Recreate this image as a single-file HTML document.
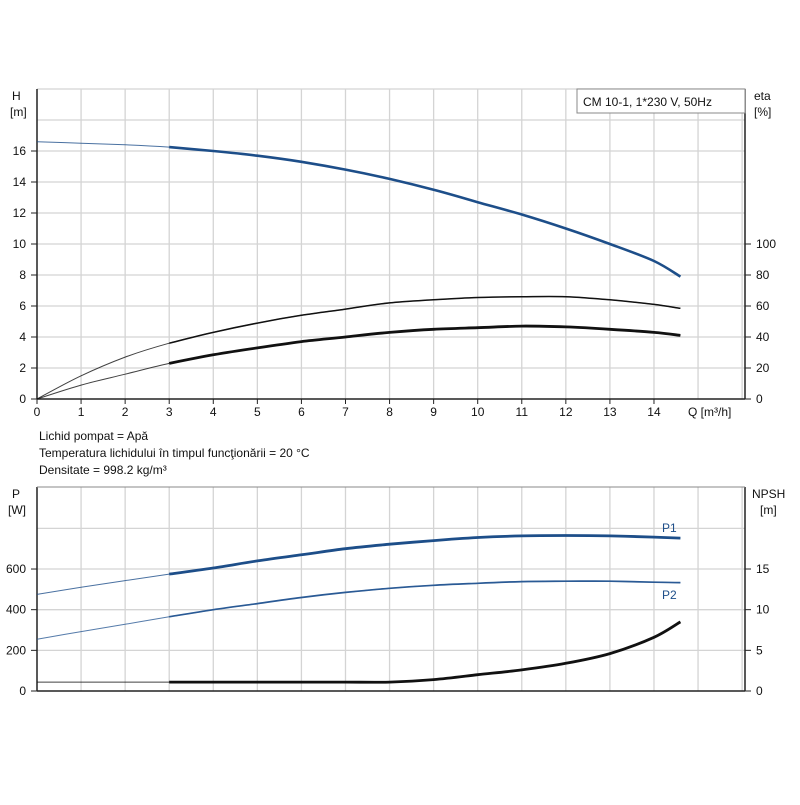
<!DOCTYPE html>
<html><head><meta charset="utf-8"><style>
body{margin:0;background:#fff;}
svg{font-family:"Liberation Sans",sans-serif;}
</style></head><body>
<svg id="c" width="800" height="800" viewBox="0 0 800 800"></svg>
<script>
const qValues=[0,1,2,3,4,5,6,7,8,9,10,11,12,13,14,14.6];
const headValues=[16.6,16.5,16.4,16.25,16.0,15.7,15.3,14.8,14.2,13.5,12.7,11.9,11.0,10.0,8.9,7.9];
const etaPumpValues=[0,15,27,36,43,49,54,58,62,64,65.5,66,66,64,61,58.5];
const etaTotalValues=[0,9,16,23,28.5,33,37,40,43,45,46,47,46.5,45,43,41];
const p1Values=[475,510,543,575,605,640,670,700,722,740,755,763,765,763,757,752];
const p2Values=[255,292,328,365,400,430,460,485,505,520,530,538,540,540,535,533];
const npshValues=[1.1,1.1,1.1,1.1,1.1,1.1,1.1,1.1,1.1,1.4,2.0,2.6,3.4,4.6,6.6,8.5];
const xTicks=[0,1,2,3,4,5,6,7,8,9,10,11,12,13,14];
const hTicks=[0,2,4,6,8,10,12,14,16];
const etaTicks=[0,20,40,60,80,100];
const pTicks=[0,200,400,600];
const npshTicks=[0,5,10,15];
const notes=["Lichid pompat = Apă","Temperatura lichidului în timpul funcţionării = 20 °C","Densitate = 998.2 kg/m³"];

const svg=document.getElementById('c');const NS='http://www.w3.org/2000/svg';
function el(t,a,txt){const e=document.createElementNS(NS,t);for(const k in a)e.setAttribute(k,a[k]);if(txt!==undefined)e.textContent=txt;svg.appendChild(e);return e;}
const X0=37,XR=745;
const xs=q=>X0+q*44.07;
const yH=h=>399-h*15.5;
const yEta=e=>399-e*1.55;
const yP=p=>691-p*0.2033;
const yN=n=>691-n*8.133;
for(let i=1;i<=16;i++){const g=el('line',{x1:xs(i),x2:xs(i),y1:89,y2:399,stroke:'#d4d4d4','stroke-width':1.3});}
for(let h=2;h<=20;h+=2){const g=el('line',{x1:X0,x2:XR,y1:yH(h),y2:yH(h),stroke:'#d4d4d4','stroke-width':1.3});}
for(let i=1;i<=16;i++){const g=el('line',{x1:xs(i),x2:xs(i),y1:487,y2:691,stroke:'#d4d4d4','stroke-width':1.3});}
for(let p=200;p<=800;p+=200){const g=el('line',{x1:X0,x2:XR,y1:yP(p),y2:yP(p),stroke:'#d4d4d4','stroke-width':1.3});}
[[X0,89,X0,399],[XR,89,XR,399],[X0,399,XR,399],[X0,487,X0,691],[XR,487,XR,691],[X0,691,XR,691],[X0,487,XR,487]].forEach(a=>{const top=a[1]==487&&a[3]==487;const l=el('line',{x1:a[0],y1:a[1],x2:a[2],y2:a[3],stroke:top?'#888':'#222','stroke-width':top?1:1.5});});
const T={'font-size':12,fill:'#111'};
hTicks.forEach(h=>{const t=el('text',Object.assign({x:26,y:yH(h)+4,'text-anchor':'end'},T),h);el('line',{x1:31,x2:X0,y1:yH(h),y2:yH(h),stroke:'#222'});});
etaTicks.forEach(e=>{const t=el('text',Object.assign({x:756,y:yEta(e)+4},T),e);el('line',{x1:XR,x2:751,y1:yEta(e),y2:yEta(e),stroke:'#222'});});
xTicks.forEach(q=>{const t=el('text',Object.assign({x:xs(q),y:416,'text-anchor':'middle'},T),q);el('line',{x1:xs(q),x2:xs(q),y1:399,y2:404,stroke:'#222'});});
pTicks.forEach(p=>{const t=el('text',Object.assign({x:26,y:yP(p)+4,'text-anchor':'end'},T),p);el('line',{x1:31,x2:X0,y1:yP(p),y2:yP(p),stroke:'#222'});});
npshTicks.forEach(n=>{const t=el('text',Object.assign({x:756,y:yN(n)+4},T),n);el('line',{x1:XR,x2:751,y1:yN(n),y2:yN(n),stroke:'#222'});});
[['H',12,100,'h-axis-title'],['[m]',10,116,'h-axis-unit'],['eta',754,100,'eta-axis-title'],['[%]',754,116,'eta-axis-unit'],['Q [m³/h]',688,416,'x-axis-title'],['P',12,498,'p-axis-title'],['[W]',8,514,'p-axis-unit'],['NPSH',752,498,'npsh-axis-title'],['[m]',760,514,'npsh-axis-unit']].forEach(a=>{const t=el('text',Object.assign({x:a[1],y:a[2]},T),a[0]);});
notes.forEach((n,i)=>{const t=el('text',Object.assign({x:39,y:440+i*17},T),n);});
const lb=el('rect',{x:577,y:89,width:168,height:24,fill:'#fff',stroke:'#888'});
const lt=el('text',Object.assign({x:583,y:106},T),'CM 10-1, 1*230 V, 50Hz');
function smooth(pts){
  let d='M'+pts[0][0].toFixed(1)+' '+pts[0][1].toFixed(1);
  for(let i=0;i<pts.length-1;i++){
    const p0=pts[Math.max(0,i-1)],p1=pts[i],p2=pts[i+1],p3=pts[Math.min(pts.length-1,i+2)];
    const c1=[p1[0]+(p2[0]-p0[0])/6,p1[1]+(p2[1]-p0[1])/6],c2=[p2[0]-(p3[0]-p1[0])/6,p2[1]-(p3[1]-p1[1])/6];
    d+=' C'+c1.map(v=>v.toFixed(1)).join(' ')+' '+c2.map(v=>v.toFixed(1)).join(' ')+' '+p2[0].toFixed(1)+' '+p2[1].toFixed(1);
  }
  return d;
}
function curve(vals,yf,color,name,w){
  const pts=qValues.map((q,i)=>[xs(q),yf(vals[i])]);
  const thin=el('path',{d:smooth(pts),fill:'none',stroke:color,'stroke-width':1,'stroke-opacity':0.8});
  const th=el('path',{d:smooth(pts.slice(3)),fill:'none',stroke:color,'stroke-width':w,'stroke-linejoin':'round'});
}
curve(headValues,yH,'#1d4e89','head',2.6);
curve(etaPumpValues,yEta,'#111','eta-pump',1.5);
curve(etaTotalValues,yEta,'#111','eta-total',2.8);
curve(p1Values,yP,'#1d4e89','p1',2.8);
curve(p2Values,yP,'#2a5a95','p2',1.7);
curve(npshValues,yN,'#111','npsh',2.8);
const l1=el('text',{x:662,y:532,'font-size':12,fill:'#1d4e89'},'P1');
const l2=el('text',{x:662,y:599,'font-size':12,fill:'#1d4e89'},'P2');
</script>
</body></html>
